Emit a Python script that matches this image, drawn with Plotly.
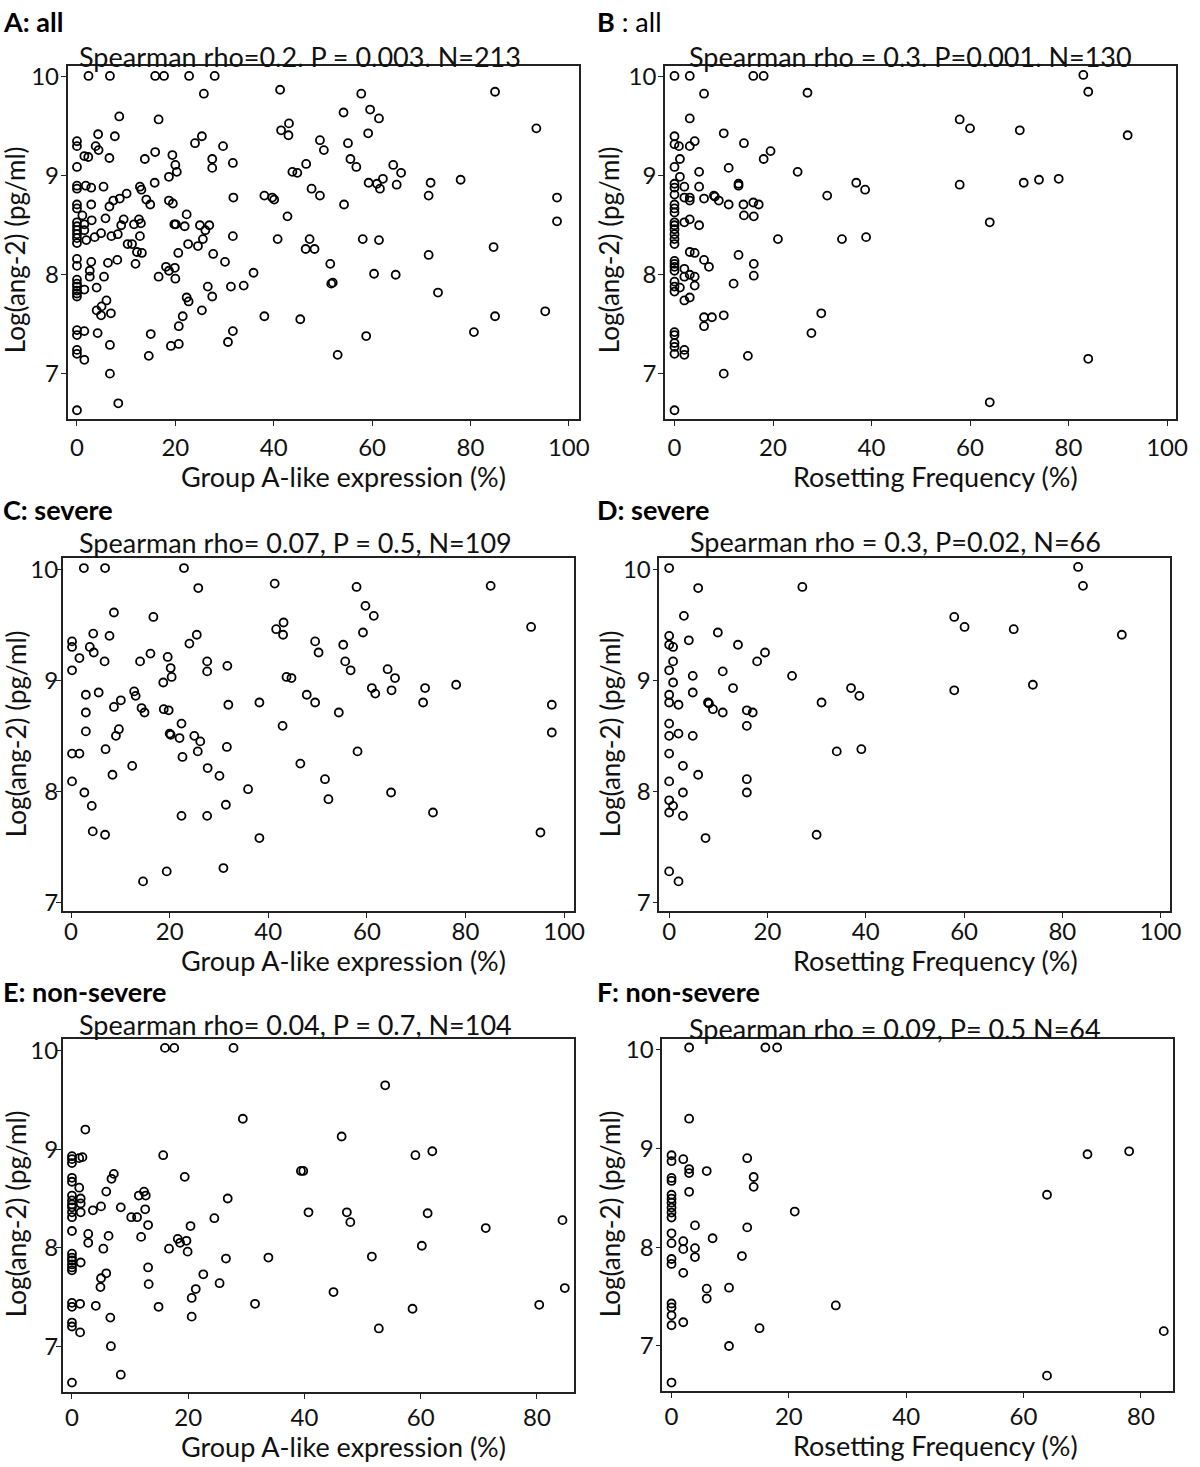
import plotly.graph_objects as go

W, H = 1200, 1467

# ---------------- data (x = %, y = log(ang-2)) ----------------
A_points = [
    (2.35, 10.01), (6.7, 10.01), (15.9, 10.01), (17.7, 10.01), (22.8, 10.01), (28.0, 10.01),
    (25.8, 9.83), (41.3, 9.87), (8.6, 9.60), (16.6, 9.57), (43.1, 9.53), (41.5, 9.46), (43.0, 9.41),
    (4.3, 9.42), (7.7, 9.40), (25.4, 9.40), (24.0, 9.33), (29.7, 9.30), (49.4, 9.36), (50.2, 9.26),
    (0, 9.35), (0, 9.30), (0, 9.09), (0, 8.90), (0, 8.87), (0, 8.71), (0, 8.67), (0, 8.53), (0, 8.49),
    (0, 8.45), (0, 8.41), (0, 8.37), (0, 8.32), (0, 8.16), (0, 8.09), (0, 7.95), (0, 7.91), (0, 7.88),
    (0, 7.84), (0, 7.81), (0, 7.78), (0, 7.44), (0, 7.39), (0, 7.24), (0, 7.20), (0, 6.63),
    (3.8, 9.30), (4.4, 9.26), (1.5, 9.20), (2.3, 9.19), (6.6, 9.18), (13.8, 9.17), (15.9, 9.24),
    (19.4, 9.21), (20.0, 9.11), (27.5, 9.17), (27.5, 9.08), (31.7, 9.13), (46.6, 9.12), (43.8, 9.04),
    (44.8, 9.03), (20.3, 9.04), (18.7, 8.99),
    (1.8, 8.90), (2.9, 8.88), (5.4, 8.89), (12.8, 8.89), (13.1, 8.86), (15.8, 8.93),
    (10.1, 8.82), (8.7, 8.77), (7.4, 8.75), (6.6, 8.69), (14.1, 8.76), (14.9, 8.71), (18.7, 8.75),
    (19.5, 8.72), (31.8, 8.78), (38.1, 8.80), (39.7, 8.78), (40.1, 8.76), (47.7, 8.87), (49.4, 8.80),
    (2.9, 8.71), (1.1, 8.60), (1.5, 8.51), (1.5, 8.45), (1.9, 8.35), (3.0, 8.55), (3.6, 8.38),
    (4.9, 8.42), (5.8, 8.57), (7.0, 8.39), (8.3, 8.41), (9.0, 8.50), (9.5, 8.56), (10.3, 8.31),
    (11.2, 8.31), (11.6, 8.51), (12.6, 8.56), (13.0, 8.52), (12.8, 8.39), (12.2, 8.23), (13.2, 8.22),
    (11.9, 8.11), (8.2, 8.15), (6.3, 8.12), (2.9, 8.13), (2.6, 8.04), (2.6, 7.98), (5.5, 7.98),
    (1.5, 7.85), (4.0, 7.87), (4.0, 7.64), (5.0, 7.68), (4.9, 7.59), (6.0, 7.74), (6.9, 7.61),
    (4.2, 7.41), (1.5, 7.43), (1.5, 7.14), (6.7, 7.29), (6.7, 7.00), (8.4, 6.70),
    (16.6, 7.98), (18.1, 8.08), (18.7, 8.04), (19.9, 8.07), (20.0, 7.96), (20.6, 8.22), (22.3, 8.61),
    (21.9, 8.49), (22.6, 8.31), (19.8, 8.51), (20.1, 8.51), (25.0, 8.50), (26.9, 8.50), (26.1, 8.45),
    (25.6, 8.36), (24.6, 8.29), (27.7, 8.21), (30.1, 8.13), (31.7, 8.39), (26.6, 7.88), (27.5, 7.78),
    (31.3, 7.88), (33.9, 7.89), (35.9, 8.02), (22.3, 7.77), (22.7, 7.73), (25.4, 7.64), (21.5, 7.58),
    (20.7, 7.48), (20.7, 7.30), (19.1, 7.28), (15.0, 7.40), (14.6, 7.18), (30.7, 7.32), (31.7, 7.43),
    (38.1, 7.58), (45.4, 7.55), (40.8, 8.36), (42.8, 8.59), (47.3, 8.36), (46.5, 8.26), (48.3, 8.26),
    (51.5, 8.11), (51.7, 7.91), (52.0, 7.92),
    (57.8, 9.83), (85.0, 9.85), (54.2, 9.64), (59.6, 9.67), (61.4, 9.58), (59.2, 9.43), (93.4, 9.48),
    (55.1, 9.33), (55.6, 9.17), (56.8, 9.09), (64.3, 9.11), (65.9, 9.03), (62.2, 8.97), (59.3, 8.93),
    (61.0, 8.92), (61.6, 8.87), (65.0, 8.91), (71.9, 8.93), (71.5, 8.80), (78.0, 8.96), (97.6, 8.78),
    (97.6, 8.54), (54.3, 8.71), (58.1, 8.36), (61.4, 8.35), (84.7, 8.28), (71.5, 8.20), (60.4, 8.01),
    (64.8, 8.00), (73.4, 7.82), (95.2, 7.63), (85.0, 7.58), (80.7, 7.42), (58.8, 7.38), (53.0, 7.19),
]

B_points = [
    (0, 10.01), (3.1, 10.01), (16.0, 10.01), (18.1, 10.01), (6.0, 9.83), (27.0, 9.84), (3.1, 9.58),
    (10.0, 9.43), (0, 9.40), (0, 9.32), (0.9, 9.30), (3.1, 9.30), (4.1, 9.35), (14.1, 9.33),
    (19.5, 9.25), (18.1, 9.17), (1.1, 9.17), (0, 9.09), (11.0, 9.08), (5.0, 9.04), (25.0, 9.04),
    (1.1, 8.99), (0, 8.92), (0, 8.88), (0, 8.81), (2.0, 8.89), (5.0, 8.89), (13.0, 8.92), (13.0, 8.90),
    (36.9, 8.93), (38.7, 8.86), (2.0, 8.78), (3.1, 8.78), (3.1, 8.75), (6.0, 8.77), (8.0, 8.80),
    (8.2, 8.79), (9.0, 8.75), (11.0, 8.71), (14.0, 8.71), (16.0, 8.73), (17.1, 8.71), (31.0, 8.80),
    (0, 8.71), (0, 8.67), (0, 8.63), (14.1, 8.60), (16.1, 8.59), (3.1, 8.56), (2.0, 8.53), (5.0, 8.50),
    (0, 8.53), (0, 8.50), (0, 8.46), (0, 8.41), (0, 8.36), (0, 8.31), (21.0, 8.36), (34.0, 8.36),
    (38.9, 8.38), (3.1, 8.23), (4.1, 8.22), (13.0, 8.20), (6.0, 8.15), (7.0, 8.08), (16.1, 8.11),
    (16.1, 7.99), (0, 8.14), (0, 8.11), (0, 8.08), (0, 8.04), (2.0, 8.06), (2.0, 7.98), (3.1, 8.00),
    (4.1, 7.98), (4.1, 7.89), (12.0, 7.91), (0, 7.93), (0, 7.88), (0, 7.83), (1.1, 7.87), (2.0, 7.74),
    (3.1, 7.77), (6.0, 7.57), (6.0, 7.48), (7.6, 7.57), (10.0, 7.59), (29.8, 7.61), (27.8, 7.41),
    (0, 7.42), (0, 7.39), (0, 7.31), (0, 7.27), (0, 7.20), (2.0, 7.24), (2.0, 7.19), (14.9, 7.18),
    (10.0, 7.00), (0, 6.63),
    (83.0, 10.02), (84.0, 9.85), (57.9, 9.57), (60.0, 9.48), (70.1, 9.46), (92.0, 9.41), (57.9, 8.91),
    (70.9, 8.93), (74.0, 8.96), (78.0, 8.97), (64.0, 8.53), (84.0, 7.15), (64.0, 6.71),
]

C_points = [
    (2.6, 10.01), (6.9, 10.01), (22.9, 10.01), (25.8, 9.83), (41.3, 9.87), (8.7, 9.61), (16.7, 9.57),
    (0.2, 9.35), (0.2, 9.30), (0.2, 9.09), (1.7, 9.20), (3.8, 9.30), (4.5, 9.42), (4.6, 9.25),
    (7.8, 9.40), (6.8, 9.17), (14.0, 9.17), (16.1, 9.24), (19.6, 9.21), (20.2, 9.11), (20.4, 9.03),
    (18.7, 8.98), (24.0, 9.33), (25.5, 9.41), (27.6, 9.17), (27.6, 9.08), (31.7, 9.13), (41.6, 9.46),
    (43.1, 9.52), (43.0, 9.41), (43.7, 9.03), (44.7, 9.02), (49.5, 9.35), (50.2, 9.25), (47.8, 8.87),
    (49.5, 8.80), (3.0, 8.87), (5.6, 8.89), (12.8, 8.90), (13.1, 8.86), (10.1, 8.82), (8.7, 8.76),
    (14.3, 8.75), (14.9, 8.71), (3.0, 8.71), (3.0, 8.54), (9.7, 8.56), (9.1, 8.50), (7.0, 8.38),
    (0.2, 8.34), (1.7, 8.34), (0.2, 8.09), (2.7, 7.99), (4.2, 7.87), (4.4, 7.64), (6.9, 7.61),
    (8.4, 8.15), (12.4, 8.23), (18.8, 8.74), (19.8, 8.73), (20.0, 8.52), (20.2, 8.51), (22.0, 8.48),
    (22.4, 8.61), (22.6, 8.31), (25.0, 8.50), (26.2, 8.45), (25.7, 8.36), (27.7, 8.21), (30.1, 8.14),
    (31.6, 8.40), (31.9, 8.78), (38.2, 8.80), (42.9, 8.59), (46.5, 8.25), (35.9, 8.02), (31.4, 7.88),
    (27.6, 7.78), (22.4, 7.78), (38.2, 7.58), (30.9, 7.31), (19.4, 7.28), (14.6, 7.19), (51.5, 8.11),
    (52.2, 7.93),
    (57.9, 9.84), (85.1, 9.85), (59.7, 9.67), (61.4, 9.58), (59.2, 9.43), (93.3, 9.48), (55.2, 9.32),
    (55.6, 9.17), (56.7, 9.09), (64.2, 9.10), (65.7, 9.02), (61.0, 8.93), (61.7, 8.88), (65.0, 8.91),
    (71.8, 8.93), (71.4, 8.80), (78.1, 8.96), (97.5, 8.78), (97.5, 8.53), (54.3, 8.71), (58.1, 8.36),
    (64.9, 7.99), (73.4, 7.81), (95.2, 7.63),
]

D_points = [
    (0, 10.01), (5.9, 9.83), (27.1, 9.84), (3.0, 9.58), (9.9, 9.43), (0, 9.40), (0, 9.32), (0.8, 9.30),
    (4.0, 9.36), (14.0, 9.32), (19.5, 9.25), (17.9, 9.17), (0.8, 9.17), (0, 9.09), (10.9, 9.08),
    (4.8, 9.04), (25.0, 9.04), (0.8, 8.98), (0, 8.87), (0, 8.80), (1.9, 8.78), (4.8, 8.89), (13.0, 8.93),
    (37.0, 8.93), (38.7, 8.86), (7.9, 8.80), (8.1, 8.79), (8.9, 8.74), (10.9, 8.71), (15.8, 8.73),
    (17.0, 8.71), (15.8, 8.59), (31.0, 8.80), (0, 8.61), (0, 8.50), (1.9, 8.52), (4.8, 8.50),
    (0, 8.34), (34.1, 8.36), (39.1, 8.38), (2.8, 8.23), (5.9, 8.15), (0, 8.09), (15.8, 8.11),
    (15.8, 7.99), (2.8, 7.99), (0, 7.92), (0, 7.81), (0.8, 7.87), (2.8, 7.78), (7.4, 7.58), (30.0, 7.61),
    (0, 7.28), (1.9, 7.19),
    (83.2, 10.02), (84.2, 9.85), (58.0, 9.57), (60.1, 9.48), (70.1, 9.46), (92.1, 9.41), (58.0, 8.91),
    (74.0, 8.96),
]

E_points = [
    (16.0, 10.03), (17.6, 10.03), (27.8, 10.03), (29.4, 9.31), (2.3, 9.20), (15.7, 8.94), (0, 8.93),
    (0, 8.90), (0, 8.86), (1.25, 8.91), (1.8, 8.92), (0, 8.71), (0, 8.67), (19.4, 8.72), (7.2, 8.75),
    (6.8, 8.70), (1.25, 8.61), (5.9, 8.57), (0, 8.53), (0, 8.48), (0, 8.44), (0, 8.41), (1.5, 8.50),
    (1.5, 8.45), (1.5, 8.36), (3.6, 8.38), (5.0, 8.42), (8.4, 8.41), (0, 8.36), (0, 8.31), (10.2, 8.31),
    (11.2, 8.31), (11.5, 8.53), (12.4, 8.57), (12.7, 8.53), (12.6, 8.39), (13.1, 8.23), (11.9, 8.11),
    (2.8, 8.14), (2.8, 8.05), (6.3, 8.12), (5.4, 7.99), (0, 8.17), (0, 7.94), (0, 7.90), (0, 7.87),
    (0, 7.83), (0, 7.80), (0, 7.77), (1.5, 7.85), (5.9, 7.74), (5.0, 7.69), (4.9, 7.60), (13.1, 7.80),
    (13.2, 7.63), (4.1, 7.41), (0, 7.44), (0, 7.40), (1.4, 7.43), (0, 7.24), (0, 7.20), (1.4, 7.14),
    (6.6, 7.29), (6.7, 7.00), (8.4, 6.71), (0, 6.63), (16.7, 7.99), (18.2, 8.09), (18.6, 8.05),
    (19.7, 8.07), (19.9, 7.96), (20.4, 8.22), (24.5, 8.30), (26.8, 8.50), (26.5, 7.89), (22.6, 7.73),
    (25.4, 7.64), (21.3, 7.58), (20.6, 7.49), (20.6, 7.30), (14.9, 7.40), (31.5, 7.43), (33.8, 7.90),
    (39.4, 8.78), (39.8, 8.78), (40.7, 8.36), (45.0, 7.55),
    (53.9, 9.65), (46.4, 9.13), (59.1, 8.94), (62.0, 8.98), (47.3, 8.36), (47.9, 8.26), (61.2, 8.35),
    (71.2, 8.20), (84.4, 8.28), (60.2, 8.02), (51.6, 7.91), (58.6, 7.38), (52.8, 7.18), (80.4, 7.42),
    (84.8, 7.59),
]

F_points = [
    (3.0, 10.02), (16.0, 10.02), (18.0, 10.02), (3.0, 9.30), (0, 8.93), (0, 8.87), (2.0, 8.89),
    (3.0, 8.79), (3.0, 8.75), (6.0, 8.77), (12.9, 8.90), (14.0, 8.71), (14.0, 8.61), (0, 8.70),
    (0, 8.67), (3.0, 8.56), (0, 8.53), (0, 8.49), (0, 8.45), (0, 8.40), (0, 8.35), (0, 8.30),
    (21.0, 8.36), (4.0, 8.22), (12.9, 8.20), (7.0, 8.09), (0, 8.14), (0, 8.04), (2.0, 8.06),
    (2.0, 7.98), (4.0, 7.99), (4.0, 7.90), (12.0, 7.91), (0, 7.88), (0, 7.83), (2.0, 7.74), (6.0, 7.58),
    (6.0, 7.48), (9.8, 7.59), (28.0, 7.41), (0, 7.43), (0, 7.39), (0, 7.31), (0, 7.21), (2.0, 7.24),
    (15.0, 7.18), (9.8, 7.00), (0, 6.63),
    (70.9, 8.94), (78.0, 8.97), (64.0, 8.53), (83.9, 7.15), (64.0, 6.70),
]

panel_labels = ["<b>A: all</b>", "<b>B</b> : all", "<b>C: severe</b>", "<b>D: severe</b>",
                "<b>E: non-severe</b>", "<b>F: non-severe</b>"]
stat_texts = ["Spearman rho=0.2. P = 0.003. N=213",
              "Spearman rho = 0.3. P=0.001. N=130",
              "Spearman rho= 0.07, P = 0.5, N=109",
              "Spearman rho = 0.3, P=0.02, N=66",
              "Spearman rho= 0.04, P = 0.7, N=104",
              "Spearman rho = 0.09, P= 0.5 N=64"]
x_titles = ["Group A-like expression (%)", "Rosetting Frequency (%)"] * 3
y_title = "Log(ang-2) (pg/ml)"
x_ticks_full = [0, 20, 40, 60, 80, 100]
x_ticks_short = [0, 20, 40, 60, 80]
y_ticks = [7, 8, 9, 10]

# ---------------- layout geometry (page pixels) ----------------
boxes = [(68.3, 585, 61.7, 416.7), (671.7, 1188.3, 61.7, 416.7),
         (63.3, 579.3, 556.7, 912), (666, 1182.3, 556.7, 912),
         (63.3, 579.3, 1040.7, 1396), (669, 1185, 1040, 1395)]
xranges = [(-1.9, 102.1), (-1.93, 101.9), (-1.7, 101.9), (-2.0, 102.0), (-1.6, 86.3), (-1.57, 85.5)]
yranges = [(6.54, 10.107), (6.54, 10.107), (6.92, 10.098), (6.92, 10.098), (6.53, 10.117), (6.54, 10.11)]
x_lab_standoff = [1, 1, -7, -7, -2, -2]
y_lab_standoff = [-3, -3, -7, -3, -7, -3]
label_pos = [(3, None), (603, None), (3, 508), (603, 508), (3, 993), (603, 993)]
stat_pos = [(303, 51.5), (920, 51.5), (298, 541), (905, 539.5), (298, 1026), (904, 1029.5)]
xt_cx = [346.5, 945, 346.5, 945, 346.5, 945]
yt_pos = [(15.8, 246), (615.8, 246), (15.8, 733), (615.8, 733), (15.8, 1216), (615.8, 1216)]

FONT = "Lato"
FS_TICK = 24
FS_STAT = 27
FS_XT = 27
FS_YT = 26
FS_LABEL = 27
LW = 1.6
TICKLEN = 5


def px(x):
    return x / W


def py(y):
    return 1 - y / H


fig = go.Figure()
all_points = [A_points, B_points, C_points, D_points, E_points, F_points]
annotations = []
base_ann = dict(xref="paper", yref="paper", showarrow=False, borderpad=0, borderwidth=0)
for i, pts in enumerate(all_points):
    n = "" if i == 0 else str(i + 1)
    xs = [p[0] for p in pts]
    ys = [p[1] for p in pts]
    fig.add_trace(go.Scatter(
        x=xs, y=ys, mode="markers", xaxis="x" + n, yaxis="y" + n, showlegend=False,
        marker=dict(symbol="circle-open", size=8, color="black", line=dict(width=1.8, color="black")),
        cliponaxis=False, hoverinfo="skip",
    ))
    l, r, t, b = boxes[i]
    common = dict(showline=True, mirror=True, linecolor="#222", linewidth=LW, ticks="outside",
                  ticklen=TICKLEN, tickwidth=1.4, tickcolor="#222", showgrid=False, zeroline=False,
                  tickfont=dict(family=FONT, size=FS_TICK, color="#111"))
    fig.update_layout(**{
        "xaxis" + n: dict(domain=[px(l), px(r)], range=list(xranges[i]), anchor="y" + n,
                          tickvals=x_ticks_full if i < 4 else x_ticks_short,
                          ticklabelstandoff=x_lab_standoff[i], **common),
        "yaxis" + n: dict(domain=[py(b), py(t)], range=list(yranges[i]), anchor="x" + n,
                          tickvals=y_ticks, ticklabelstandoff=y_lab_standoff[i], **common),
    })
    # panel label
    lx, ly = label_pos[i]
    if ly is None:
        annotations.append(dict(text=panel_labels[i], x=px(lx), y=1.0, xanchor="left", yanchor="top",
                                font=dict(family=FONT, size=FS_LABEL, color="black"), **base_ann))
    else:
        annotations.append(dict(text=panel_labels[i], x=px(lx), y=py(ly), xanchor="left", yanchor="middle",
                                font=dict(family=FONT, size=FS_LABEL, color="black"), **base_ann))
    # statistics line
    annotations.append(dict(text=stat_texts[i], x=px(stat_pos[i][0]), y=py(stat_pos[i][1]),
                            xanchor="center", yanchor="middle",
                            font=dict(family=FONT, size=FS_STAT, color="#111"), **base_ann))
    # x title just under the tick labels
    tick_box_bottom = b + TICKLEN + 0.2 * FS_TICK + LW / 2 + x_lab_standoff[i] + 1.2 * FS_TICK
    annotations.append(dict(text=x_titles[i], x=px(xt_cx[i]), y=py(tick_box_bottom + 0.5),
                            xanchor="center", yanchor="top",
                            font=dict(family=FONT, size=FS_XT, color="#111"), **base_ann))
    # y title
    annotations.append(dict(text=y_title, x=px(yt_pos[i][0]), y=py(yt_pos[i][1]), textangle=-90,
                            xanchor="center", yanchor="middle",
                            font=dict(family=FONT, size=FS_YT, color="#111"), **base_ann))

fig.update_layout(width=W, height=H, margin=dict(l=0, r=0, t=0, b=0),
                  paper_bgcolor="white", plot_bgcolor="white", annotations=annotations,
                  font=dict(family=FONT, size=FS_STAT, color="#111"))

fig.write_html("out.html", config={"displayModeBar": False},
               post_script="document.body.style.margin='0px';document.body.style.overflow='hidden';")
